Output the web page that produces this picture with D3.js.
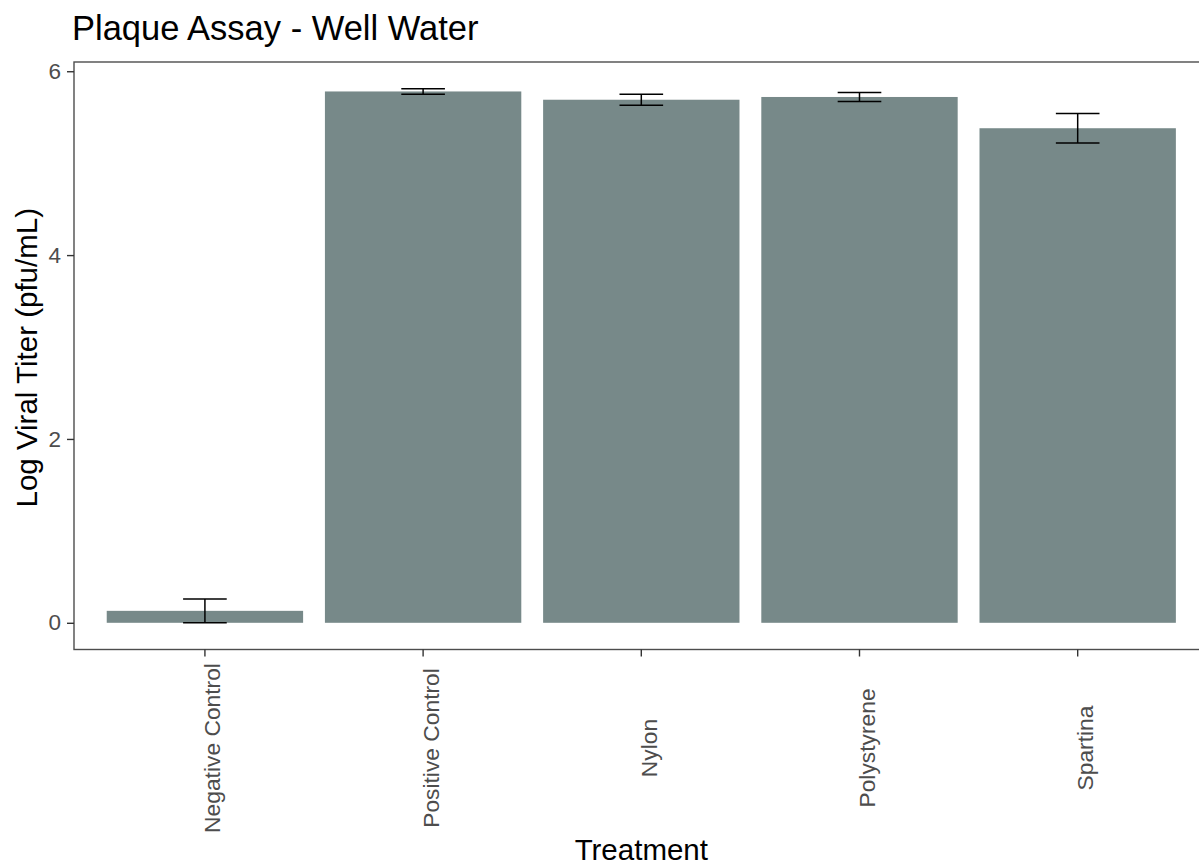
<!DOCTYPE html>
<html>
<head>
<meta charset="utf-8">
<script src="https://cdn.jsdelivr.net/npm/d3@7"></script>
<style>
  html, body { margin: 0; padding: 0; background: #fff; }
  svg { display: block; overflow: hidden; }
  text { font-family: "Liberation Sans", Arial, Helvetica, sans-serif; }
</style>
</head>
<body>
<svg id="chart" width="1199" height="866"></svg>
<script>
// Plaque assay results for well water, mean log titer with error range
const treatments = ["Negative Control", "Positive Control", "Nylon", "Polystyrene", "Spartina"];
const meanTiter  = [0.13, 5.78, 5.69, 5.72, 5.38];
const errLow     = [0.00, 5.75, 5.63, 5.67, 5.22];
const errHigh    = [0.26, 5.81, 5.75, 5.77, 5.54];
const yTicks     = [0, 2, 4, 6];

const titleText = "Plaque Assay - Well Water";
const xTitle = "Treatment";
const yTitle = "Log Viral Titer (pfu/mL)";

const svg = d3.select("#chart");

// panel bounds
const panel = { left: 74, right: 1208.6, top: 62, bottom: 649.5 };

const rows = treatments.map((t, i) => ({
  name: t, mean: meanTiter[i], lo: errLow[i], hi: errHigh[i]
}));

// discrete x: bars 0.9 of a step, 0.6 step of space on each side of the outer centres
const x = d3.scaleBand()
  .domain(treatments)
  .range([panel.left, panel.right])
  .paddingInner(0.1)
  .paddingOuter(0.15);

// continuous y with 5% expansion of the data range
const yMin = Math.min(0, d3.min(errLow));
const yMax = d3.max(errHigh);
const pad = (yMax - yMin) * 0.05;
const y = d3.scaleLinear()
  .domain([yMin - pad, yMax + pad])
  .range([panel.bottom, panel.top]);

const barColor = "#778989";
const step = x.step();

// bars
svg.append("g")
  .selectAll("rect")
  .data(rows)
  .join("rect")
  .attr("x", d => x(d.name))
  .attr("width", x.bandwidth())
  .attr("y", d => y(Math.max(0, d.mean)))
  .attr("height", d => Math.abs(y(0) - y(d.mean)))
  .attr("fill", barColor);

// error bars
const eb = svg.append("g")
  .attr("stroke", "#000")
  .attr("stroke-width", 1.5)
  .attr("fill", "none");
const capHalf = step * 0.1;
rows.forEach(d => {
  const cx = x(d.name) + x.bandwidth() / 2;
  eb.append("line").attr("x1", cx).attr("x2", cx).attr("y1", y(d.lo)).attr("y2", y(d.hi));
  eb.append("line").attr("x1", cx - capHalf).attr("x2", cx + capHalf).attr("y1", y(d.lo)).attr("y2", y(d.lo));
  eb.append("line").attr("x1", cx - capHalf).attr("x2", cx + capHalf).attr("y1", y(d.hi)).attr("y2", y(d.hi));
});

// panel border
svg.append("rect")
  .attr("x", panel.left)
  .attr("y", panel.top)
  .attr("width", panel.right - panel.left)
  .attr("height", panel.bottom - panel.top)
  .attr("fill", "none")
  .attr("stroke", "#4d4d4d")
  .attr("stroke-width", 1.4);

// y axis
const yAxis = svg.append("g")
  .attr("transform", `translate(${panel.left},0)`)
  .call(d3.axisLeft(y).tickValues(yTicks).tickSize(7).tickPadding(6).tickFormat(d3.format("d")));
yAxis.select(".domain").remove();
yAxis.selectAll(".tick line").attr("stroke", "#333").attr("stroke-width", 1.4);
yAxis.selectAll(".tick text")
  .attr("fill", "#4d4d4d")
  .style("font-size", "22.5px")
  .style("font-family", "'Liberation Sans', Arial, sans-serif");

// x axis
const xAxis = svg.append("g")
  .attr("transform", `translate(0,${panel.bottom})`)
  .call(d3.axisBottom(x).tickSize(7).tickPadding(0));
xAxis.select(".domain").remove();
xAxis.selectAll(".tick line").attr("stroke", "#333").attr("stroke-width", 1.4);
xAxis.selectAll(".tick text")
  .attr("fill", "#4d4d4d")
  .attr("text-anchor", "middle")
  .attr("dy", null)
  .attr("y", null)
  .attr("transform", `translate(15.5,${748 - panel.bottom}) rotate(-90)`)
  .style("font-size", "22.8px")
  .style("font-family", "'Liberation Sans', Arial, sans-serif");

// axis titles
svg.append("text")
  .attr("x", (panel.left + panel.right) / 2)
  .attr("y", 860)
  .attr("text-anchor", "middle")
  .attr("fill", "#000")
  .style("font-size", "29.5px")
  .text(xTitle);

svg.append("text")
  .attr("transform", `translate(37,${(panel.top + panel.bottom) / 2 + 2}) rotate(-90)`)
  .attr("text-anchor", "middle")
  .attr("fill", "#000")
  .style("font-size", "29.5px")
  .text(yTitle);

// plot title
svg.append("text")
  .attr("x", 72)
  .attr("y", 40)
  .attr("fill", "#000")
  .style("font-size", "34.5px")
  .text(titleText);
</script>
</body>
</html>
